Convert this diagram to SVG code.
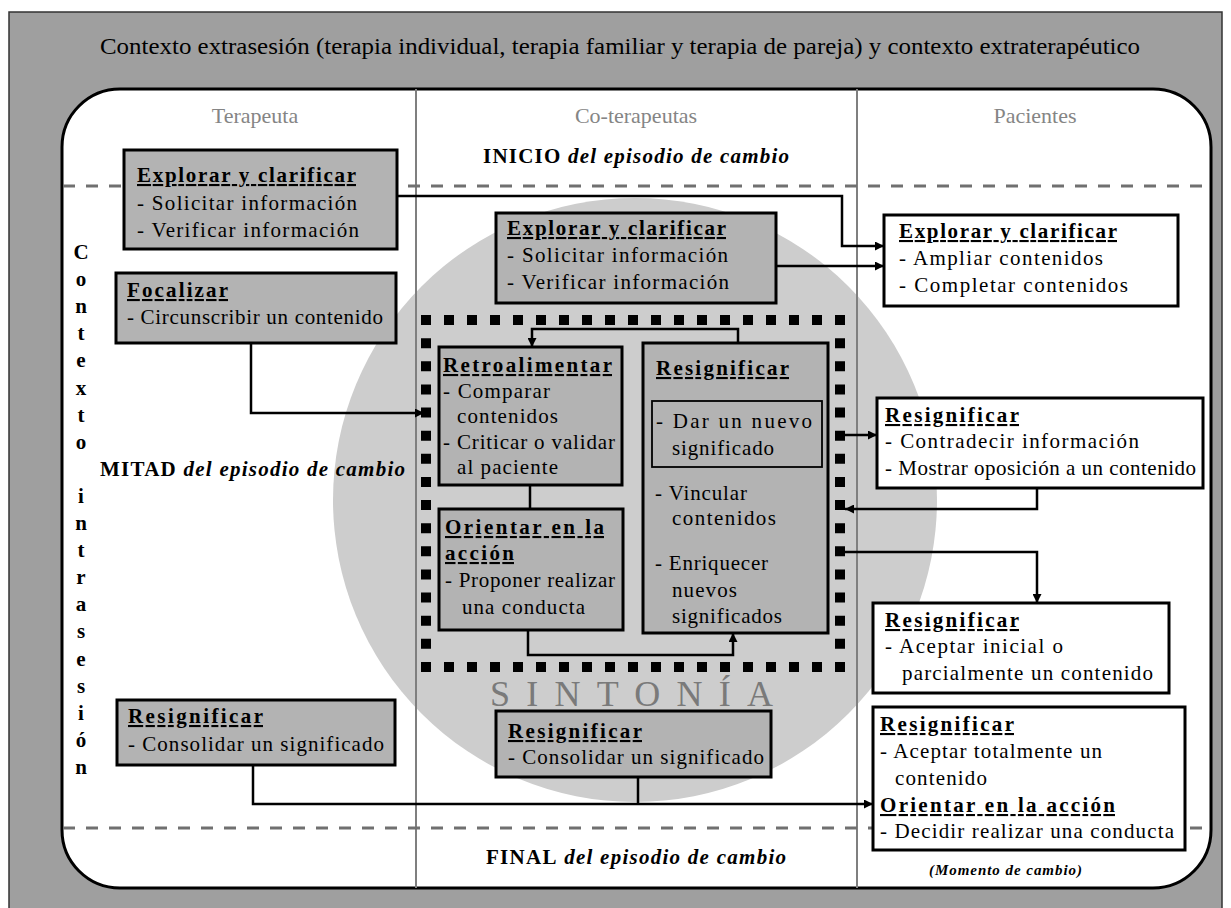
<svg xmlns="http://www.w3.org/2000/svg" width="1231" height="908" viewBox="0 0 1231 908">
<defs>
<marker id="ah" viewBox="0 0 10 10" refX="10" refY="5" markerWidth="9" markerHeight="9" markerUnits="userSpaceOnUse" orient="auto"><path d="M0,0 L10,5 L0,10 z" fill="#000"/></marker>
<style>
text{font-family:"Liberation Serif","Times New Roman",serif;fill:#000}
.t{font-size:21px}
.ti{font-size:21px;font-weight:bold;text-decoration:underline}
.box{fill:#b3b3b3;stroke:#000;stroke-width:3}
.wbox{fill:#fff;stroke:#000;stroke-width:3}
.ibox{fill:#b3b3b3;stroke:#000;stroke-width:1.8}
.conn{fill:none;stroke:#000;stroke-width:2.5}
.dash{stroke:#707070;stroke-width:3;stroke-dasharray:12 11;fill:none}
.div{stroke:#7f7f7f;stroke-width:2}
.hdr{font-size:22px;fill:#858585;text-anchor:middle}
.ph{font-size:21px}
.vl{font-size:21px;font-weight:bold;text-anchor:middle}
.dot{stroke:#000;stroke-width:10;fill:none}
</style>
</defs>

<g id="background">
<rect x="9" y="12" width="1213" height="910" fill="#9f9f9f" stroke="#333" stroke-width="1.5"/>
<text x="100" y="54" font-size="23.5" textLength="1040" lengthAdjust="spacingAndGlyphs">Contexto extrasesión (terapia individual, terapia familiar y terapia de pareja) y contexto extraterapéutico</text>
<rect x="62" y="89" width="1149" height="799" rx="58" ry="58" fill="#fff" stroke="#000" stroke-width="3"/>
<circle cx="635" cy="500" r="302" fill="#cdcdcd"/>
<line class="div" x1="416" y1="89" x2="416" y2="888"/>
<line class="div" x1="857" y1="89" x2="857" y2="888"/>
<line class="dash" x1="63" y1="186" x2="1210" y2="186"/>
<line class="dash" x1="63" y1="828" x2="1210" y2="828"/>
</g>

<g id="labels">
<text class="hdr" x="255" y="123">Terapeuta</text>
<text class="hdr" x="636" y="123">Co-terapeutas</text>
<text class="hdr" x="1035" y="123">Pacientes</text>
<text class="ph" x="483" y="163" textLength="306" lengthAdjust="spacing"><tspan font-weight="bold">INICIO</tspan> <tspan font-weight="bold" font-style="italic">del episodio de cambio</tspan></text>
<text class="ph" x="100" y="476" textLength="305" lengthAdjust="spacing"><tspan font-weight="bold">MITAD</tspan> <tspan font-weight="bold" font-style="italic">del episodio de cambio</tspan></text>
<text class="ph" x="486" y="864" textLength="300" lengthAdjust="spacing"><tspan font-weight="bold">FINAL</tspan> <tspan font-weight="bold" font-style="italic">del episodio de cambio</tspan></text>
<text x="929" y="875" font-size="15" font-weight="bold" font-style="italic" textLength="153" lengthAdjust="spacing">(Momento de cambio)</text>
<text x="490" y="706" font-size="36" style="fill:#7a7a7a" textLength="283" lengthAdjust="spacing">SINTONÍA</text>
<text class="vl">
<tspan x="81" y="259">C</tspan><tspan x="81" y="286.1">o</tspan><tspan x="81" y="313.2">n</tspan><tspan x="81" y="340.3">t</tspan><tspan x="81" y="367.4">e</tspan><tspan x="81" y="394.5">x</tspan><tspan x="81" y="421.6">t</tspan><tspan x="81" y="448.7">o</tspan><tspan x="81" y="502.9">i</tspan><tspan x="81" y="530">n</tspan><tspan x="81" y="557.1">t</tspan><tspan x="81" y="584.2">r</tspan><tspan x="81" y="611.3">a</tspan><tspan x="81" y="638.4">s</tspan><tspan x="81" y="665.5">e</tspan><tspan x="81" y="692.6">s</tspan><tspan x="81" y="719.7">i</tspan><tspan x="81" y="746.8">ó</tspan><tspan x="81" y="773.9">n</tspan>
</text>
</g>

<g id="sintonia-frame">
<line class="dot" x1="421" y1="320" x2="845" y2="320" stroke-dasharray="10 13"/>
<line class="dot" x1="421" y1="667" x2="845" y2="667" stroke-dasharray="10 13"/>
<line class="dot" x1="426" y1="315" x2="426" y2="672" stroke-dasharray="10 13.13"/>
<line class="dot" x1="840" y1="315" x2="840" y2="672" stroke-dasharray="10 13.13"/>
</g>

<g id="t-explorar">
<rect class="box" x="124" y="150" width="273" height="99"/>
<text class="ti" x="137" y="182" textLength="219" lengthAdjust="spacing">Explorar y clarificar</text>
<text class="t" x="137" y="210" textLength="220" lengthAdjust="spacing">- Solicitar información</text>
<text class="t" x="137" y="237" textLength="222" lengthAdjust="spacing">- Verificar información</text>
</g>

<g id="t-focalizar">
<rect class="box" x="116" y="273" width="280" height="70"/>
<text class="ti" x="127" y="297" textLength="101" lengthAdjust="spacing">Focalizar</text>
<text class="t" x="127" y="324" textLength="256" lengthAdjust="spacing">- Circunscribir un contenido</text>
</g>

<g id="t-resignificar">
<rect class="box" x="117" y="700" width="278" height="65"/>
<text class="ti" x="128" y="723" textLength="135" lengthAdjust="spacing">Resignificar</text>
<text class="t" x="128" y="751" textLength="256" lengthAdjust="spacing">- Consolidar un significado</text>
</g>

<g id="c-explorar">
<rect class="box" x="496" y="213" width="280" height="90"/>
<text class="ti" x="507" y="235" textLength="219" lengthAdjust="spacing">Explorar y clarificar</text>
<text class="t" x="507" y="262" textLength="221" lengthAdjust="spacing">- Solicitar información</text>
<text class="t" x="507" y="289" textLength="222" lengthAdjust="spacing">- Verificar información</text>
</g>

<g id="c-retroalimentar">
<rect class="box" x="439" y="347" width="183" height="138"/>
<text class="ti" x="443" y="372" textLength="169" lengthAdjust="spacing">Retroalimentar</text>
<text class="t" x="443" y="398" textLength="107" lengthAdjust="spacing">- Comparar</text>
<text class="t" x="457" y="423" textLength="101" lengthAdjust="spacing">contenidos</text>
<text class="t" x="443" y="449" textLength="172" lengthAdjust="spacing">- Criticar o validar</text>
<text class="t" x="457" y="474" textLength="101" lengthAdjust="spacing">al paciente</text>
</g>

<g id="c-orientar">
<rect class="box" x="439" y="509" width="184" height="121"/>
<text class="ti" x="445" y="534" textLength="159" lengthAdjust="spacing">Orientar en la</text>
<text class="ti" x="445" y="560" textLength="69" lengthAdjust="spacing">acción</text>
<text class="t" x="445" y="587" textLength="170" lengthAdjust="spacing">- Proponer realizar</text>
<text class="t" x="462" y="614" textLength="123" lengthAdjust="spacing">una conducta</text>
</g>

<g id="c-resignificar">
<rect class="box" x="643" y="343" width="185" height="290"/>
<text class="ti" x="656" y="375" textLength="133" lengthAdjust="spacing">Resignificar</text>
<rect class="ibox" x="652" y="401" width="170" height="66"/>
<text class="t" x="656" y="428" textLength="156" lengthAdjust="spacing">- Dar un nuevo</text>
<text class="t" x="672" y="455" textLength="102" lengthAdjust="spacing">significado</text>
<text class="t" x="655" y="500" textLength="92" lengthAdjust="spacing">- Vincular</text>
<text class="t" x="672" y="525" textLength="104" lengthAdjust="spacing">contenidos</text>
<text class="t" x="655" y="570" textLength="113" lengthAdjust="spacing">- Enriquecer</text>
<text class="t" x="672" y="597" textLength="65" lengthAdjust="spacing">nuevos</text>
<text class="t" x="672" y="623" textLength="110" lengthAdjust="spacing">significados</text>
</g>

<g id="c-resignificar-final">
<rect class="box" x="496" y="711" width="275" height="66"/>
<text class="ti" x="508" y="738" textLength="134" lengthAdjust="spacing">Resignificar</text>
<text class="t" x="508" y="764" textLength="256" lengthAdjust="spacing">- Consolidar un significado</text>
</g>

<g id="p-explorar">
<rect class="wbox" x="884" y="215" width="294" height="91"/>
<text class="ti" x="899" y="238" textLength="218" lengthAdjust="spacing">Explorar y clarificar</text>
<text class="t" x="899" y="265" textLength="204" lengthAdjust="spacing">- Ampliar contenidos</text>
<text class="t" x="899" y="292" textLength="229" lengthAdjust="spacing">- Completar contenidos</text>
</g>

<g id="p-resignificar-1">
<rect class="wbox" x="877" y="398" width="326" height="90"/>
<text class="ti" x="885" y="422" textLength="134" lengthAdjust="spacing">Resignificar</text>
<text class="t" x="885" y="448" textLength="254" lengthAdjust="spacing">- Contradecir información</text>
<text class="t" x="885" y="475" textLength="311" lengthAdjust="spacing">- Mostrar oposición a un contenido</text>
</g>

<g id="p-resignificar-2">
<rect class="wbox" x="873" y="603" width="296" height="90"/>
<text class="ti" x="885" y="627" textLength="134" lengthAdjust="spacing">Resignificar</text>
<text class="t" x="885" y="653" textLength="178" lengthAdjust="spacing">- Aceptar inicial o</text>
<text class="t" x="902" y="680" textLength="251" lengthAdjust="spacing">parcialmente un contenido</text>
</g>

<g id="p-resignificar-3">
<rect class="wbox" x="873" y="707" width="312" height="143"/>
<text class="ti" x="880" y="731" textLength="134" lengthAdjust="spacing">Resignificar</text>
<text class="t" x="880" y="758" textLength="222" lengthAdjust="spacing">- Aceptar totalmente un</text>
<text class="t" x="895" y="785" textLength="92" lengthAdjust="spacing">contenido</text>
<text class="ti" x="880" y="812" textLength="235" lengthAdjust="spacing">Orientar en la acción</text>
<text class="t" x="880" y="838" textLength="294" lengthAdjust="spacing">- Decidir realizar una conducta</text>
</g>

<g id="connectors">
<path class="conn" d="M397,196 H842 V246 H884" marker-end="url(#ah)"/>
<path class="conn" d="M776,266 H884" marker-end="url(#ah)"/>
<path class="conn" d="M251,343 V413 H424" marker-end="url(#ah)"/>
<path class="conn" d="M738,343 V329 H532 V347" marker-end="url(#ah)"/>
<path class="conn" d="M530,485 V509"/>
<path class="conn" d="M528,630 V655 H733 V633" marker-end="url(#ah)"/>
<path class="conn" d="M840,435 H877" marker-end="url(#ah)"/>
<path class="conn" d="M1037,488 V509 H845" marker-end="url(#ah)"/>
<path class="conn" d="M840,552 H1037 V603" marker-end="url(#ah)"/>
<path class="conn" d="M253,765 V804 H873" marker-end="url(#ah)"/>
<path class="conn" d="M638,777 V804"/>
</g>
</svg>
